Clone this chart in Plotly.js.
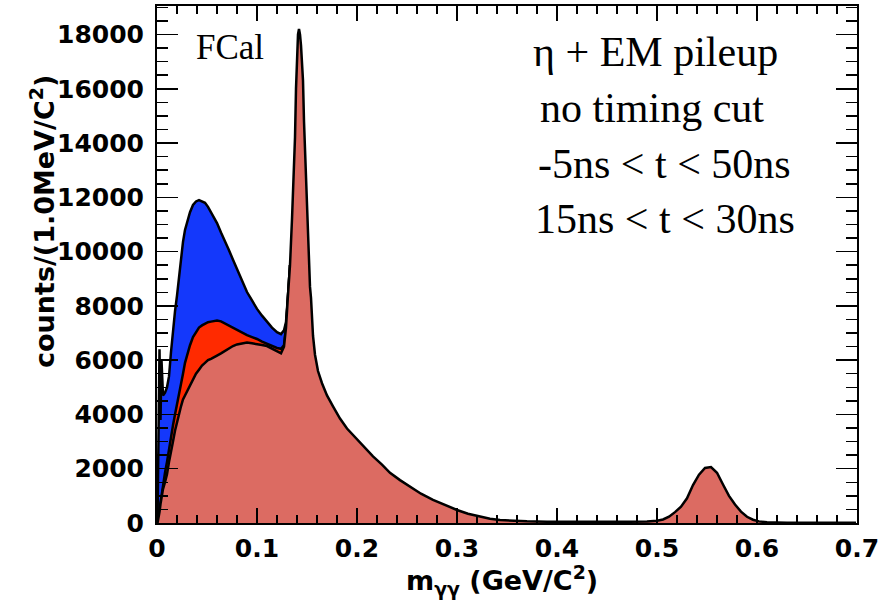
<!DOCTYPE html>
<html>
<head>
<meta charset="utf-8">
<script src="https://cdn.plot.ly/plotly-3.0.1.min.js"></script>
<style>html,body{margin:0;padding:0;background:#fff;}#plot{width:892px;height:614px;}</style>
</head>
<body>
<div id="plot"></div>
<script>
// m_gammagamma bin positions (GeV/c^2)
const mass = [0.0005,0.0015,0.0025,0.0035,0.0045,0.006,0.008,0.010,0.012,0.014,0.016,0.018,0.020,0.022,0.024,0.026,0.028,0.030,0.033,0.036,0.039,0.042,0.045,0.048,0.051,0.054,0.057,0.060,0.064,0.068,0.072,0.076,0.080,0.085,0.090,0.095,0.100,0.105,0.110,0.115,0.120,0.124,0.127,0.129,0.131,0.133,
  0.135,0.137,0.138,0.139,0.140,0.141,0.142,0.143,0.144,0.145,0.146,0.147,0.148,0.149,0.150,0.151,0.152,0.153,0.154,0.155,0.156,0.158,0.161,0.165,0.170,0.176,0.183,0.190,0.200,0.208,0.216,0.225,0.233,0.243,0.253,0.264,0.276,0.288,0.300,0.311,0.323,0.333,0.343,0.355,0.370,0.390,0.410,0.430,0.450,0.470,0.490,0.500,0.506,0.512,0.518,0.524,0.530,0.536,0.542,0.548,0.554,0.560,0.566,0.572,0.578,0.584,0.590,0.596,0.602,0.610,0.630,0.660,0.699];

// no timing cut (blue) – only differs below the pi0 peak
const noCut = [0,4500,6400,3800,6000,4700,4800,5000,5400,6300,7150,7800,8380,9100,9900,10360,10800,11100,11450,11720,11850,11900,11850,11800,11650,11450,11250,11050,10700,10400,10050,9700,9370,8950,8510,8200,7890,7640,7400,7200,7030,6960,7100,7400,8400,9500];

// -5ns < t < 50ns (red)
const wideCut = [0,250,550,850,1100,1500,1850,2250,2750,3200,3600,4000,4350,4750,5150,5500,5900,6200,6550,6850,7050,7200,7280,7350,7400,7420,7450,7460,7430,7350,7280,7200,7100,7000,6920,6850,6780,6680,6600,6520,6450,6420,6550,7200,8400,9500];

// 15ns < t < 30ns (salmon)
const narrowCut = [0,150,400,700,950,1250,1500,1800,2250,2700,3000,3400,3750,4000,4300,4550,4700,4850,5100,5300,5500,5650,5800,5900,6000,6050,6100,6170,6250,6350,6450,6520,6580,6620,6650,6620,6600,6560,6520,6420,6300,6250,6500,7200,8400,9500,
  11200,13000,14200,16000,17400,18000,18200,18000,17600,17000,16300,14800,13800,12800,11700,10500,9300,8700,8300,7700,6900,6200,5600,5150,4700,4300,3850,3480,3075,2750,2455,2150,1850,1580,1345,1080,850,650,480,340,230,160,110,80,60,50,45,40,40,45,55,80,130,230,400,600,910,1400,1780,2030,2060,1850,1420,1000,680,420,230,120,60,30,10,5,5];

const xTickVals = [0,0.1,0.2,0.3,0.4,0.5,0.6,0.7];
const xTickText = ["0","0.1","0.2","0.3","0.4","0.5","0.6","0.7"];
const yTickVals = [0,2000,4000,6000,8000,10000,12000,14000,16000,18000];
const yTickText = ["0","2000","4000","6000","8000","10000","12000","14000","16000","18000"];

const legendLines = ["η + EM pileup","no timing cut","-5ns < t < 50ns","15ns < t < 30ns"];

function hist(y, fill){
  return {x: mass, y: y, type:'scatter', mode:'lines', fill:'tozeroy', fillcolor: fill,
          line:{color:'#000', width:2.5, shape:'linear'}, hoverinfo:'skip', showlegend:false};
}

const data = [hist(noCut,'#1438fb'), hist(wideCut,'#ff2a00'), hist(narrowCut,'#dc6b62')];

const tickFont = {family:'DejaVu Sans', size:25, weight:'bold', color:'#000'};
const titleFont = {family:'DejaVu Sans', size:27, weight:'bold', color:'#000'};
const legendFont = {family:'Liberation Serif', size:42, color:'#000'};
const fcalFont = {family:'Liberation Serif', size:35, color:'#000'};

// pixel -> paper coordinates of the frame
const L=157, R=857, T=6, B=523;
function px(x){return (x-L)/(R-L);} function py(y){return (B-y)/(B-T);}

const annotations = [
  {text:'FCal', x:px(194), y:py(47), xref:'paper', yref:'paper', showarrow:false, font:fcalFont, xanchor:'left', yanchor:'middle'},
  {text:'counts/(1.0MeV/C<sup>2</sup>)', x:px(42), y:py(222), xref:'paper', yref:'paper', showarrow:false, textangle:-90, font:titleFont, xanchor:'center', yanchor:'middle'},
  {text:'m<sub>γγ</sub> (GeV/C<sup>2</sup>)', x:px(502), y:py(580), xref:'paper', yref:'paper', showarrow:false, font:titleFont, xanchor:'center', yanchor:'middle'}
];
const lineY=[52,108,164,219];
const lineX=[531,538,536,533];
legendLines.forEach((t,i)=>annotations.push({text:t, x:px(lineX[i]), y:py(lineY[i]), xref:'paper', yref:'paper', showarrow:false, font:legendFont, xanchor:'left', yanchor:'middle'}));

const layout = {
  width:892, height:614,
  margin:{l:L, r:892-R, t:T, b:614-B, pad:0},
  paper_bgcolor:'#fff', plot_bgcolor:'#fff',
  showlegend:false,
  xaxis:{range:[0,0.7], tickvals:xTickVals, ticktext:xTickText, ticks:'inside', ticklen:15, tickwidth:1.5, tickcolor:'#000',
         showline:true, linewidth:2, linecolor:'#000', mirror:'ticks', showgrid:false, zeroline:false,
         tickfont:tickFont, ticklabelstandoff:2,
         minor:{dtick:0.02, tick0:0, ticklen:8, tickwidth:1.5, tickcolor:'#000', ticks:'inside', showgrid:false}},
  yaxis:{range:[0,19050], tickvals:yTickVals, ticktext:yTickText, ticks:'inside', ticklen:21, tickwidth:1.5, tickcolor:'#000',
         showline:true, linewidth:2, linecolor:'#000', mirror:'ticks', showgrid:false, zeroline:false,
         tickfont:tickFont, ticklabelstandoff:6,
         minor:{dtick:500, tick0:0, ticklen:11, tickwidth:1.5, tickcolor:'#000', ticks:'inside', showgrid:false}},
  annotations: annotations
};

Plotly.newPlot('plot', data, layout, {staticPlot:true, displayModeBar:false});
</script>
</body>
</html>
